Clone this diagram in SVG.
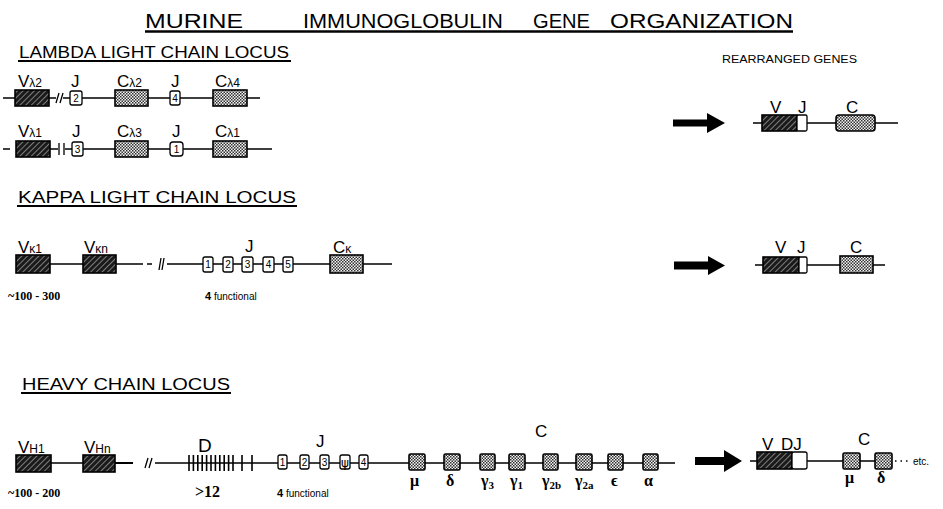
<svg xmlns="http://www.w3.org/2000/svg" width="943" height="509" viewBox="0 0 943 509">
<defs>
<pattern id="hatch" width="4" height="4" patternUnits="userSpaceOnUse" patternTransform="rotate(45)"><rect width="4" height="4" fill="#1a1a1a"/><line x1="0" y1="0" x2="0" y2="4" stroke="#cfcfcf" stroke-width="1.1"/></pattern>
<pattern id="dots" width="3" height="3" patternUnits="userSpaceOnUse"><rect width="3" height="3" fill="#f2f2f2"/><rect width="1.5" height="1.5" fill="#333"/><rect x="1.5" y="1.5" width="1.5" height="1.5" fill="#333"/></pattern>
<style>
.ln{stroke:#000;stroke-width:1.3;fill:none}
.lnb{stroke:#000;stroke-width:2;fill:none}
.v{fill:url(#hatch);stroke:#000;stroke-width:1.6}
.c{fill:url(#dots);stroke:#000;stroke-width:1.6}
.j{fill:#fff;stroke:#000;stroke-width:1.3}
.t{font-family:"Liberation Sans",Arial,sans-serif;fill:#000}
.h{font-family:"Liberation Sans",Arial,sans-serif;font-size:16px;fill:#000}
.lab{font-family:"Liberation Sans",Arial,sans-serif;font-size:17px;fill:#000}
.sub{font-size:12px}
.num{font-family:"Liberation Sans",Arial,sans-serif;font-size:10px;fill:#000;text-anchor:middle}
.gr{font-family:"Liberation Serif","Times New Roman",serif;font-weight:bold;font-size:16px;fill:#000}
.cnt{font-family:"Liberation Serif","Times New Roman",serif;font-weight:bold;font-size:12px;fill:#000}
.sm{font-family:"Liberation Sans",Arial,sans-serif;font-size:10px;fill:#000}
.arr{fill:#000}
</style>
</defs>

<g id="title">
<text class="t" font-size="20" x="145" y="28" textLength="98" lengthAdjust="spacingAndGlyphs">MURINE</text>
<text class="t" font-size="20" x="303" y="28" textLength="200" lengthAdjust="spacingAndGlyphs">IMMUNOGLOBULIN</text>
<text class="t" font-size="20" x="533" y="28" textLength="57" lengthAdjust="spacingAndGlyphs">GENE</text>
<text class="t" font-size="20" x="610" y="28" textLength="183" lengthAdjust="spacingAndGlyphs">ORGANIZATION</text>
<line x1="145" y1="31.5" x2="793" y2="31.5" stroke="#000" stroke-width="2.5"/>
</g>

<g id="lambda-title">
<text class="h" x="19" y="58" textLength="270" lengthAdjust="spacingAndGlyphs">LAMBDA  LIGHT  CHAIN  LOCUS</text>
<line x1="18" y1="61" x2="291" y2="61" stroke="#000" stroke-width="2"/>
</g>
<g id="kappa-title">
<text class="h" x="18" y="203" textLength="278" lengthAdjust="spacingAndGlyphs">KAPPA  LIGHT  CHAIN  LOCUS</text>
<line x1="17" y1="206" x2="297" y2="206" stroke="#000" stroke-width="2"/>
</g>
<g id="heavy-title">
<text class="h" x="22" y="390" textLength="208" lengthAdjust="spacingAndGlyphs">HEAVY  CHAIN  LOCUS</text>
<line x1="21" y1="393" x2="231" y2="393" stroke="#000" stroke-width="2"/>
</g>
<g id="rearranged-title">
<text class="t" font-size="10" x="722" y="63" textLength="135" lengthAdjust="spacingAndGlyphs">REARRANGED   GENES</text>
</g>

<g id="connectors">
<path class="ln" d="M3 98H15 M49 98H56 M63 98H70 M82 98H115 M148 98H170 M180 98H213 M247 98H260"/>
<path class="ln" d="M56 103L59 93 M60 103L63 93"/>
<path class="ln" d="M3 149H10 M50 149H58 M65 149H72 M83 149H115 M148 149H170 M183 149H213 M247 149H272"/>
<path class="ln" d="M59 143V155 M64 143V155"/>
<path class="ln" d="M50 264H83 M116 264H143 M147 264H152 M167 264H203 M213 264H223 M233 264H242 M253 264H263 M274 264H283 M293 264H330 M363 264H392"/>
<path class="ln" d="M159 270L161 258 M162 270L164 258"/>
<path class="ln" d="M51 463H83 M155 463H278 M287 463H300 M309 463H320 M329 463H340 M350 463H359 M368 463H675"/>
<path class="lnb" d="M115 463H133"/>
<path class="ln" d="M145 468L148 458 M149 468L152 458"/>
<path class="ln" d="M753 123H762 M807 123H836 M875 123H898"/>
<path class="ln" d="M755 265H763 M807 265H840 M873 265H885"/>
<path class="ln" d="M750 461H757 M807 461H843 M860 461H875"/>
<path d="M895 461H910" stroke="#000" stroke-width="1.3" stroke-dasharray="1.5 4"/>
<path class="arr" d="M673 119.5H707V113L725 123L707 133V126.5H673Z"/>
<path class="arr" d="M674 261.5H708V256L725 265.5L708 275V269.5H674Z"/>
<path class="arr" d="M695 457H724V450L742 461L724 472V465H695Z"/>
</g>

<g id="V-lambda2"><rect class="v" x="15" y="90" width="34" height="16"/><text class="lab" x="18" y="87">V<tspan class="sub">λ2</tspan></text></g>
<g id="J2-lambda"><rect class="j" x="70" y="91" width="12" height="14" rx="2"/><text class="num" x="76" y="102">2</text><text class="lab" x="71" y="87">J</text></g>
<g id="C-lambda2"><rect class="c" x="115" y="90" width="33" height="16"/><text class="lab" x="117" y="87">C<tspan class="sub">λ2</tspan></text></g>
<g id="J4-lambda"><rect class="j" x="170" y="91" width="10" height="14" rx="2"/><text class="num" x="175" y="102">4</text><text class="lab" x="171" y="87">J</text></g>
<g id="C-lambda4"><rect class="c" x="213" y="90" width="34" height="16"/><text class="lab" x="215" y="87">C<tspan class="sub">λ4</tspan></text></g>

<g id="V-lambda1"><rect class="v" x="16" y="141" width="34" height="16"/><text class="lab" x="18" y="137">V<tspan class="sub">λ1</tspan></text></g>
<g id="J3-lambda"><rect class="j" x="72" y="142" width="11" height="14" rx="2"/><text class="num" x="77.5" y="153">3</text><text class="lab" x="72" y="137">J</text></g>
<g id="C-lambda3"><rect class="c" x="115" y="141" width="33" height="16"/><text class="lab" x="117" y="137">C<tspan class="sub">λ3</tspan></text></g>
<g id="J1-lambda"><rect class="j" x="170" y="142" width="13" height="14" rx="3"/><text class="num" x="176.5" y="153">1</text><text class="lab" x="172" y="137">J</text></g>
<g id="C-lambda1"><rect class="c" x="213" y="141" width="34" height="16"/><text class="lab" x="215" y="137">C<tspan class="sub">λ1</tspan></text></g>

<g id="R-lambda">
<rect class="v" x="762" y="115" width="35" height="16"/>
<rect class="j" x="797" y="115" width="10" height="16" rx="1.5"/>
<rect class="c" x="836" y="115" width="39" height="16" rx="3"/>
<text class="lab" x="770" y="113">V</text><text class="lab" x="798" y="113">J</text><text class="lab" x="846" y="113">C</text>
</g>

<g id="V-kappa1"><rect class="v" x="16" y="255" width="34" height="18"/><text class="lab" x="18" y="253">V<tspan class="sub">κ1</tspan></text></g>
<g id="V-kappan"><rect class="v" x="83" y="255" width="33" height="18"/><text class="lab" x="84" y="253">V<tspan class="sub">κn</tspan></text></g>
<g id="J-kappa">
<rect class="j" x="203" y="257" width="10" height="15" rx="2"/><text class="num" x="208" y="268">1</text>
<rect class="j" x="223" y="257" width="10" height="15" rx="2"/><text class="num" x="228" y="268">2</text>
<rect class="j" x="242" y="257" width="11" height="15" rx="2"/><text class="num" x="247.5" y="268">3</text>
<rect class="j" x="263" y="257" width="11" height="15" rx="2"/><text class="num" x="268.5" y="268">4</text>
<rect class="j" x="283" y="257" width="10" height="15" rx="2"/><text class="num" x="288" y="268">5</text>
<text class="lab" x="245" y="252">J</text>
</g>
<g id="C-kappa"><rect class="c" x="330" y="255" width="33" height="18"/><text class="lab" x="333" y="253">C<tspan class="sub">κ</tspan></text></g>
<g id="kappa-counts">
<text class="cnt" x="8" y="300">~100 - 300</text>
<text class="sm" x="205" y="300"><tspan font-weight="bold" font-size="11">4</tspan> functional</text>
</g>

<g id="R-kappa">
<rect class="v" x="763" y="257" width="36" height="16"/>
<rect class="j" x="799" y="257" width="8" height="16" rx="1.5"/>
<rect class="c" x="840" y="256" width="33" height="17"/>
<text class="lab" x="775" y="253">V</text><text class="lab" x="797" y="253">J</text><text class="lab" x="850" y="253">C</text>
</g>

<g id="V-H1"><rect class="v" x="16" y="455" width="35" height="17"/><text class="lab" x="18" y="453">V<tspan class="sub">H1</tspan></text></g>
<g id="V-Hn"><rect class="v" x="83" y="455" width="32" height="17"/><text class="lab" x="84" y="453">V<tspan class="sub">Hn</tspan></text></g>
<g id="D-segments">
<path stroke="#000" stroke-width="1.6" d="M189 455V471 M193.4 455V471 M197.8 455V471 M202.2 455V471 M206.6 455V471 M211 455V471 M215.4 455V471 M219.8 455V471 M224.2 455V471 M228.6 455V471 M233 455V471 M242 455V471 M252 455V471"/>
<text class="t" font-size="19" x="198" y="452">D</text>
</g>
<g id="J-heavy">
<rect class="j" x="278" y="455" width="9" height="14" rx="2"/><text class="num" x="282.5" y="466">1</text>
<rect class="j" x="300" y="455" width="9" height="14" rx="2"/><text class="num" x="304.5" y="466">2</text>
<rect class="j" x="320" y="455" width="9" height="14" rx="2"/><text class="num" x="324.5" y="466">3</text>
<rect class="j" x="340" y="455" width="10" height="14" rx="2"/><text x="345" y="467" font-family="DejaVu Sans,sans-serif" font-size="12" fill="#000" text-anchor="middle">ψ</text>
<rect class="j" x="359" y="455" width="9" height="14" rx="2"/><text class="num" x="363.5" y="466">4</text>
<text class="lab" x="316" y="447">J</text>
</g>
<g id="C-heavy">
<rect class="c" x="409" y="454" width="16" height="16" rx="1.5"/>
<rect class="c" x="444" y="454" width="16" height="16" rx="1.5"/>
<rect class="c" x="480" y="454" width="15" height="16" rx="1.5"/>
<rect class="c" x="509" y="454" width="16" height="16" rx="1.5"/>
<rect class="c" x="543" y="454" width="15" height="16" rx="1.5"/>
<rect class="c" x="576" y="454" width="16" height="16" rx="1.5"/>
<rect class="c" x="608" y="454" width="15" height="16" rx="1.5"/>
<rect class="c" x="643" y="454" width="15" height="16" rx="1.5"/>
<text class="lab" x="535" y="437">C</text>
<text class="gr" x="410" y="486">μ</text>
<text class="gr" x="446" y="486">δ</text>
<text class="gr" x="481" y="486">γ<tspan font-size="11" dy="3">3</tspan></text>
<text class="gr" x="510" y="486">γ<tspan font-size="11" dy="3">1</tspan></text>
<text class="gr" x="542" y="486">γ<tspan font-size="11" dy="3">2b</tspan></text>
<text class="gr" x="575" y="486">γ<tspan font-size="11" dy="3">2a</tspan></text>
<text class="gr" x="611" y="486">ϵ</text>
<text class="gr" x="644" y="486">α</text>
</g>
<g id="heavy-counts">
<text class="cnt" x="8" y="497">~100 - 200</text>
<text class="gr" x="195" y="497">&gt;12</text>
<text class="sm" x="277" y="497"><tspan font-weight="bold" font-size="11">4</tspan> functional</text>
</g>

<g id="R-heavy">
<rect class="v" x="757" y="452" width="35" height="17"/>
<rect class="j" x="792" y="452" width="15" height="17" rx="2"/>
<rect class="c" x="843" y="453" width="17" height="16" rx="1.5"/>
<rect class="c" x="875" y="453" width="17" height="16" rx="1.5"/>
<text class="lab" x="762" y="450">V</text><text class="lab" x="781" y="450">DJ</text>
<text class="lab" x="858" y="445">C</text>
<text class="gr" x="845" y="483">μ</text><text class="gr" x="877" y="483">δ</text>
<text class="sm" x="913" y="465" font-size="11">etc.</text>
</g>
</svg>
